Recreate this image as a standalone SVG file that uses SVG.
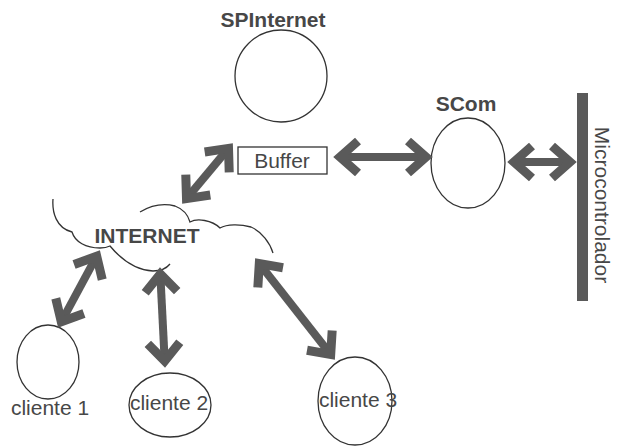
<svg xmlns="http://www.w3.org/2000/svg" width="621" height="446" viewBox="0 0 621 446">
<style>
.t{font-family:"Liberation Sans",Arial,sans-serif;font-size:21px;fill:#474747;text-anchor:middle}
.b{font-weight:bold}
.shape{fill:none;stroke:#333;stroke-width:1.3}
.arr{fill:none;stroke:#5a5a5a;stroke-width:8;marker-start:url(#ah);marker-end:url(#ah)}
</style>
<defs>
<marker id="ah" markerUnits="userSpaceOnUse" viewBox="-30 -20 40 40" refX="0" refY="0" markerWidth="40" markerHeight="40" orient="auto-start-reverse" overflow="visible">
<polyline points="-18,-16 0,0 -18,16" fill="none" stroke="#5a5a5a" stroke-width="9" stroke-linejoin="miter"/>
</marker>
</defs>
<rect width="621" height="446" fill="#fff"/>
<g id="spinternet">
<circle class="shape" cx="281" cy="76" r="46"/>
<text class="t b" x="273" y="27">SPInternet</text>
</g>
<g id="buffer">
<rect class="shape" x="238" y="147" width="89" height="27"/>
<text class="t" x="282" y="168">Buffer</text>
</g>
<g id="scom">
<ellipse class="shape" cx="468" cy="163" rx="37" ry="45"/>
<text class="t b" x="466" y="111">SCom</text>
</g>
<g id="microcontrolador">
<rect x="577" y="93" width="11" height="208" fill="#5a5a5a"/>
<text class="t" transform="translate(595,205) rotate(90)" x="0" y="0">Microcontrolador</text>
</g>
<g id="internet">
<path class="shape" d="M53,199 C52,212 56,228 72,232 C75,242 86,248 100,248 C104,248 108,247 110,246 C120,258 134,270 153,271 C160,271 166,269 170,264"/>
<path class="shape" d="M140,212 C150,206 163,203 175,206 C183,209 188,215 190,222 C197,218 212,220 220,228 C227,224 240,224 251,227 C262,232 270,243 273,253"/>
<text class="t b" x="147" y="243">INTERNET</text>
</g>
<g id="cliente1">
<ellipse class="shape" cx="48" cy="362" rx="31" ry="37"/>
<text class="t" x="50" y="415">cliente 1</text>
</g>
<g id="cliente2">
<ellipse class="shape" cx="170" cy="405" rx="41" ry="32"/>
<text class="t" x="169" y="410">cliente 2</text>
</g>
<g id="cliente3">
<ellipse class="shape" cx="355" cy="401" rx="37" ry="44"/>
<text class="t" x="358" y="407">cliente 3</text>
</g>
<g id="connectors">
<line class="arr" x1="186.5" y1="198.6" x2="228.5" y2="148.4"/>
<line class="arr" x1="340" y1="157" x2="426" y2="157"/>
<line class="arr" x1="514" y1="162" x2="570" y2="162"/>
<line class="arr" x1="96.7" y1="256.2" x2="61.3" y2="321.8"/>
<line class="arr" x1="160.3" y1="274" x2="164.7" y2="361"/>
<line class="arr" x1="259.3" y1="263.5" x2="330.7" y2="354.5"/>
</g>
</svg>
